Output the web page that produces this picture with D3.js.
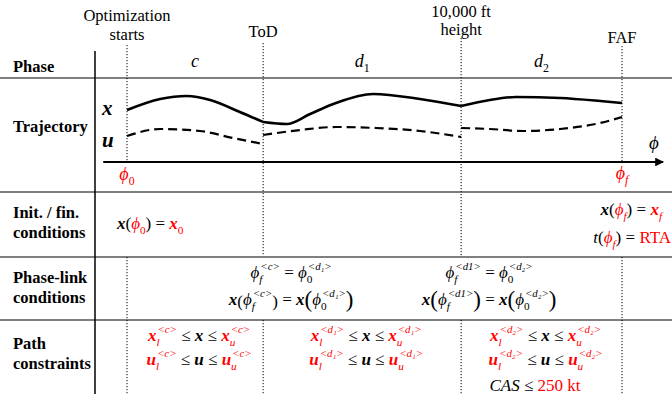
<!DOCTYPE html>
<html>
<head>
<meta charset="utf-8">
<script src="https://cdn.jsdelivr.net/npm/d3@7"></script>
<style>
  body { margin: 0; background: #fff; }
  svg { display: block; }
</style>
</head>
<body>
<svg id="fig" width="672" height="394"></svg>
<script>
// event markers along phi (phi in % of the horizon, 0 = start, 100 = FAF)
const eventNames = [["Optimization", "starts"], ["ToD"], ["10,000 ft", "height"], ["FAF"]];
const eventPhi = [0, 27.5, 67.5, 100];
const eventLabelY = [[21, 40], [37], [17, 35], [43]];

const phaseNames = ["c", "d", "d"];
const phaseSubs = ["", "1", "2"];
const phaseStart = [0, 27.5, 67.5];
const phaseEnd = [27.5, 67.5, 100];

const rowNames = [["Phase"], ["Trajectory"], ["Init. / fin.", "conditions"], ["Phase-link", "conditions"], ["Path", "constraints"]];

// state x (solid) and control u (dashed), one piece per phase: [phi, value]
const xC = [[0, 52], [6.7, 63], [12.1, 66], [16.8, 62], [22.8, 50], [27.5, 40]];
const xD1 = [[27.5, 40], [32.3, 38], [37, 48], [42.2, 59], [49.7, 68], [59.2, 63], [67.5, 56]];
const xD2 = [[67.5, 56], [73.3, 62], [78.6, 65], [87.5, 64], [95.6, 61], [100, 59]];
const uC = [[0, 26], [6.7, 33], [14.7, 31], [21.4, 24], [27.5, 18]];
const uD1 = [[27.5, 27], [35, 32], [42.2, 35], [50.3, 34], [59.2, 31], [67.5, 25]];
const uD2 = [[67.5, 34], [73.3, 33], [80, 31], [87.5, 33], [95.6, 39], [100, 45]];

const RED = "#f00";
const SERIF = "'Liberation Serif'";
const W = 672, H = 394;
const svg = d3.select("#fig");

const x = d3.scaleLinear().domain([0, 100]).range([127, 622]);
const y = d3.scaleLinear().domain([0, 70]).range([162, 92]);

// table rules
const rules = [78, 192, 257, 320];
svg.selectAll("line.rule").data(rules).enter().append("line")
  .attr("x1", 0).attr("x2", W).attr("y1", d => d).attr("y2", d => d)
  .attr("stroke", "#555").attr("stroke-width", 1.6);
svg.append("line").attr("x1", 95).attr("x2", 95).attr("y1", 51).attr("y2", H)
  .attr("stroke", "#000").attr("stroke-width", 1.5);

// dotted event lines: [event index, y0, y1]
const dots = [[0, 45, 162], [0, 257, H], [1, 43, 256], [1, 320, H], [2, 38, 256], [2, 320, H], [3, 46, 162], [3, 257, H]];
svg.selectAll("line.dot").data(dots).enter().append("line")
  .attr("x1", d => x(eventPhi[d[0]])).attr("x2", d => x(eventPhi[d[0]]))
  .attr("y1", d => d[1]).attr("y2", d => d[2])
  .attr("stroke", "#000").attr("stroke-width", 1).attr("stroke-dasharray", "1.2,1.8");

// event labels
eventNames.forEach((lines, i) => {
  lines.forEach((s, j) => {
    svg.append("text").attr("x", x(eventPhi[i])).attr("y", eventLabelY[i][j])
      .style("font-family", SERIF)
      .attr("text-anchor", "middle").attr("font-size", 16.5).text(s);
  });
});

// row labels
const rowY = [[72], [132], [218, 238], [283, 303], [349, 369]];
rowNames.forEach((lines, i) => {
  lines.forEach((s, j) => {
    svg.append("text").attr("x", 13).attr("y", rowY[i][j]).style("font-family", SERIF)
      .attr("font-size", 16.5).attr("font-weight", "bold").text(s);
  });
});

// small math typesetter: pieces laid out one after the other
function math(parts, px, py, anchor, size) {
  size = size || 17;
  const g = svg.append("g");
  let cx = 0;
  const txt = () => g.append("text").style("font-family", SERIF);
  parts.forEach(p => {
    const fs = size * (p.big || 1);
    const col = p.red ? RED : "#000";
    const t = txt().attr("x", cx).attr("y", p.big ? size * 0.1 : 0)
      .attr("font-size", fs)
      .attr("font-weight", p.b ? "bold" : "normal")
      .attr("font-style", p.i ? "italic" : "normal")
      .attr("fill", col).text(p.t);
    cx += t.node().getComputedTextLength();
    let sw = 0;
    if (p.sub) {
      const s = txt().attr("x", cx).attr("y", size * 0.28)
        .attr("font-size", size * 0.66).attr("font-style", p.si ? "italic" : "normal")
        .attr("fill", col).text(p.sub);
      sw = Math.max(sw, s.node().getComputedTextLength());
    }
    if (p.sup) {
      const s = txt().attr("x", cx + 1).attr("y", -size * 0.46)
        .attr("font-size", size * 0.64).attr("font-style", "italic")
        .attr("fill", col).text(p.sup);
      sw = Math.max(sw, s.node().getComputedTextLength() + 1);
    }
    cx += sw + (p.gap || 0);
  });
  const off = anchor === "middle" ? -cx / 2 : anchor === "end" ? -cx : 0;
  g.attr("transform", `translate(${px + off},${py})`);
}
const sp = "\u00a0";
const EQ = { t: sp + "=" + sp };
const LE = { t: sp + "\u2264" + sp };
const PHI = "\u03d5";

// phase names
phaseNames.forEach((n, i) => {
  math([{ t: n, i: 1, sub: phaseSubs[i] }], x((phaseStart[i] + phaseEnd[i]) / 2), 67, "middle", 18);
});

// trajectories
const line = d3.line().x(d => x(d[0])).y(d => y(d[1])).curve(d3.curveMonotoneX);
[xC, xD1, xD2].forEach(seg => svg.append("path").attr("d", line(seg))
  .attr("fill", "none").attr("stroke", "#000").attr("stroke-width", 2.6));
[uC, uD1, uD2].forEach(seg => svg.append("path").attr("d", line(seg))
  .attr("fill", "none").attr("stroke", "#000").attr("stroke-width", 2.2).attr("stroke-dasharray", "9,5"));

math([{ t: "x", b: 1, i: 1 }], 102, 115, "start", 21);
math([{ t: "u", b: 1, i: 1 }], 102, 147, "start", 21);

// phi axis with arrow
svg.append("defs").append("marker").attr("id", "arr").attr("viewBox", "0 0 10 10")
  .attr("refX", 9).attr("refY", 5).attr("markerWidth", 4).attr("markerHeight", 4)
  .attr("orient", "auto").append("path").attr("d", "M0,0L10,5L0,10z").attr("fill", "#000");
svg.append("line").attr("x1", x(-4.8)).attr("x2", x(108.3)).attr("y1", y(0)).attr("y2", y(0))
  .attr("stroke", "#000").attr("stroke-width", 2.2).attr("marker-end", "url(#arr)");
math([{ t: PHI, i: 1 }], 654, 149, "middle", 19);
math([{ t: PHI, i: 1, red: 1, sub: "0" }], x(0), 180, "middle", 18);
math([{ t: PHI, i: 1, red: 1, sub: "f", si: 1 }], x(100), 179, "middle", 18);

// initial / final conditions
math([{ t: "x", b: 1, i: 1 }, { t: "(" }, { t: PHI, i: 1, red: 1, sub: "0" }, { t: ")" }, EQ,
  { t: "x", b: 1, i: 1, red: 1, sub: "0" }], 117, 229, "start");
math([{ t: "x", b: 1, i: 1 }, { t: "(" }, { t: PHI, i: 1, red: 1, sub: "f", si: 1 }, { t: ")" }, EQ,
  { t: "x", b: 1, i: 1, red: 1, sub: "f", si: 1 }], 662, 215, "end");
math([{ t: "t", i: 1 }, { t: "(" }, { t: PHI, i: 1, red: 1, sub: "f", si: 1 }, { t: ")" }, EQ,
  { t: "RTA", red: 1 }], 671, 243, "end");

// phase-link conditions
const linkSup = [["<c>", "<d\u2081>"], ["<d1>", "<d\u2082>"]];
[1, 2].forEach((ev, k) => {
  const cx = x(eventPhi[ev]) + 28;
  math([{ t: PHI, i: 1, sub: "f", si: 1, sup: linkSup[k][0] }, EQ, { t: PHI, i: 1, sub: "0", sup: linkSup[k][1] }], cx, 278, "middle");
  math([{ t: "x", b: 1, i: 1 }, { t: "(", big: k ? 1.35 : 1 }, { t: PHI, i: 1, sub: "f", si: 1, sup: linkSup[k][0] }, { t: ")", big: k ? 1.35 : 1 }, EQ,
    { t: "x", b: 1, i: 1 }, { t: "(", big: 1.35 }, { t: PHI, i: 1, sub: "0", sup: linkSup[k][1] }, { t: ")", big: 1.35 }], cx, 305, "middle");
});

// path constraints
const pathSup = ["<c>", "<d\u2081>", "<d\u2082>"];
pathSup.forEach((s, i) => {
  const cx = x((phaseStart[i] + phaseEnd[i]) / 2) + 4;
  ["x", "u"].forEach((v, j) => {
    math([{ t: v, b: 1, i: 1, red: 1, sub: "l", si: 1, sup: s }, LE, { t: v, b: 1, i: 1 }, LE,
      { t: v, b: 1, i: 1, red: 1, sub: "u", si: 1, sup: s }], cx, 341 + j * 24, "middle");
  });
});
math([{ t: "CAS", i: 1 }, LE, { t: "250 kt", red: 1 }], 535, 391, "middle");
</script>
</body>
</html>
